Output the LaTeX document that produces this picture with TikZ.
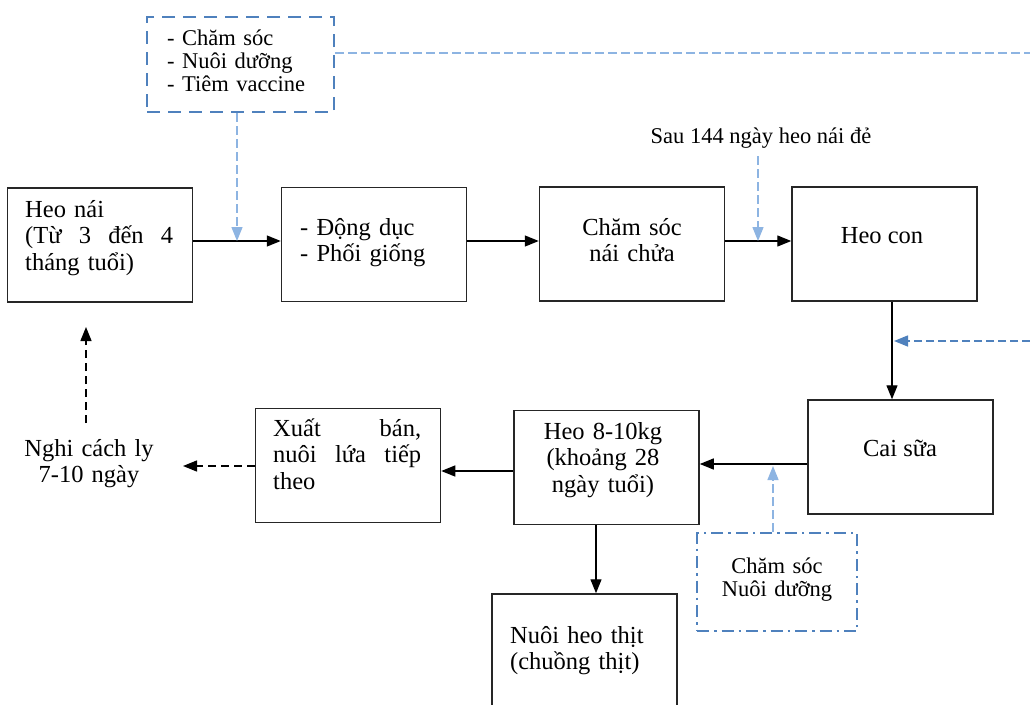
\documentclass[tikz,border=0pt]{standalone}
\usepackage{fontspec}
\setmainfont{Liberation Serif}
\usetikzlibrary{arrows.meta,calc}
\definecolor{accent}{HTML}{4F81BD}
\definecolor{pale}{HTML}{8DB4E2}

\begin{document}
\begin{tikzpicture}[x=1pt,y=-1pt,
  box/.style={draw=black!85, line width=1.5pt, inner sep=0pt,
    minimum width=185pt, minimum height=114pt},
  big/.style={font=\fontsize{24.5}{26.8}\selectfont, inner sep=0pt},
  small/.style={font=\fontsize{22.5}{23.5}\selectfont, inner sep=0pt},
  tip/.style={-{Triangle[length=14pt,width=11pt]}},
  flow/.style={tip, draw=black, line width=1.3pt},
  hint/.style={tip, draw=pale, line width=1.3pt, dash pattern=on 9pt off 4pt},
  note/.style={tip, draw=black, line width=1.3pt, dash pattern=on 8pt off 5pt},
  feed/.style={tip, draw=accent, line width=1.5pt, dash pattern=on 8pt off 4pt},
  carebox/.style={draw=accent, line width=2.2pt, dash pattern=on 13pt off 8pt,
    inner sep=0pt, minimum width=187pt, minimum height=95pt},
  feedbox/.style={draw=accent, line width=2pt,
    dash pattern=on 12pt off 5pt on 2.5pt off 5pt,
    inner sep=0pt, minimum width=160pt, minimum height=98pt}
]
\clip (0,0) rectangle (1030,704);
\fill[white] (0,0) rectangle (1030,704);

% reference rows and columns for the connectors
\coordinate (rowA) at (0,241);
\coordinate (rowB) at (0,464);
\coordinate (rowC) at (0,471);
\coordinate (rowD) at (0,466);

% boxes
\node[carebox] (care) at (240.5,64.5) {};
\node[box] (heonai) at (100,245) {};
\node[box] (dongduc) at (374,244.5) {};
\node[box] (chamsoc) at (632,244) {};
\node[box] (heocon) at (884.5,244) {};
\node[box] (caisua) at (900.5,457) {};
\node[box] (heo810) at (606.5,467.5) {};
\node[box] (xuatban) at (348,465.5) {};
\node[box, minimum height=130pt] (nuoiheo) at (584.5,659) {};
\node[feedbox] (feedcare) at (777,582) {};

% texts (justified lines are spread with \hfill)
\node[small, anchor=base west, text width=160pt] (careT) at (167,45)
  {- Chăm sóc\\- Nuôi dưỡng\\- Tiêm vaccine};
\node[big, anchor=base west, text width=148pt] (heonaiT) at (25,217)
  {Heo nái\\(Từ\hfill 3\hfill đến\hfill 4\\tháng tuổi)};
\node[big, anchor=base west, text width=160pt] (dongducT) at (300,235)
  {- Động dục\\- Phối giống};
\node[big, anchor=base, text width=180pt, align=center] (chamsocT) at (632,235)
  {Chăm sóc\\nái chửa};
\node[big, anchor=base] (heoconT) at (882,243) {Heo con};
\node[big, anchor=base] (caisuaT) at (900,456) {Cai sữa};
\node[big, anchor=base, text width=180pt, align=center] (heo810T) at (603,439)
  {Heo 8-10kg\\(khoảng 28\\ngày tuổi)};
\node[big, anchor=base west, text width=148pt] (xuatbanT) at (273,436)
  {Xuất\hfill bán,\\nuôi\hfill lứa\hfill tiếp\\theo};
\node[big, anchor=base west, text width=170pt] (nuoiheoT) at (510,643)
  {Nuôi heo thịt\\(chuồng thịt)};
\node[big, anchor=base, text width=170pt, align=center] (nghi) at (89,456)
  {Nghi cách ly\\7-10 ngày};
\node[small, anchor=base, text width=150pt, align=center] (feedcareT) at (777,573)
  {Chăm sóc\\Nuôi dưỡng};
\node[small, anchor=base] (sau) at (761,143) {Sau 144 ngày heo nái đẻ};

% free ends of the side connectors
\coordinate (j1) at (237,241);
\coordinate (j2) at (758,241);
\coordinate (j3) at (773,466);
\coordinate (colC) at (892,0);
\coordinate (colH) at (596,0);
\coordinate (edgeTop) at (1030,53);
\coordinate (edgeR) at (1030,341);
\coordinate (feedTip) at (894,341);
\coordinate (sellEnd) at (183,466);
\coordinate (upStart) at (86,423);
\coordinate (upEnd) at (86,327);

% main flow
\draw[flow] (heonai.east |- rowA) -- (dongduc.west |- rowA);
\draw[flow] (dongduc.east |- rowA) -- (chamsoc.west |- rowA);
\draw[flow] (chamsoc.east |- rowA) -- (heocon.west |- rowA);
\draw[flow] (heocon.south -| colC) -- (caisua.north -| colC);
\draw[flow] (caisua.west |- rowB) -- (heo810.east |- rowB);
\draw[flow] (heo810.west |- rowC) -- (xuatban.east |- rowC);
\draw[flow] (heo810.south -| colH) -- (nuoiheo.north -| colH);

% care inputs
\draw[draw=pale, line width=1.3pt, dash pattern=on 9pt off 4pt] (care.east |- edgeTop) -- (edgeTop);
\draw[hint] (care.south -| j1) -- (j1);
\draw[hint] (sau.south -| j2) ++(0,8) -- (j2);
\draw[hint] (feedcare.north -| j3) -- (j3);
\draw[feed] (edgeR) -- (feedTip);

% quarantine loop
\draw[note] (xuatban.west |- rowD) -- (sellEnd);
\draw[note] (upStart) -- (upEnd);
\end{tikzpicture}
\end{document}
